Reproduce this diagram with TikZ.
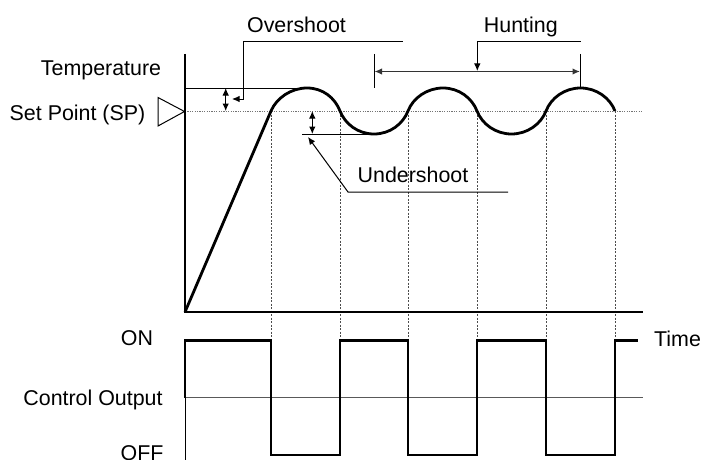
\documentclass[tikz,border=0pt]{standalone}
\usepackage{fontspec}
\setmainfont{Liberation Sans}
\usetikzlibrary{arrows.meta}
\begin{document}
\begin{tikzpicture}[x=1pt,y=-1pt,
  lbl/.style={inner sep=0pt,anchor=base,font=\fontsize{21.4}{25}\selectfont},
  axisline/.style={line width=1.6pt,black},
  thinline/.style={line width=1pt,black},
  graydot/.style={line width=0.9pt,black!55,dash pattern=on 1.2pt off 1.2pt},
  vdot/.style={line width=0.9pt,black!70,dash pattern=on 2pt off 1.5pt},
  curveline/.style={line width=2.8pt,black,line join=round},
  tip/.style={-{Latex[length=7.5pt,width=6.5pt]}},
  dtip/.style={{Latex[length=7.5pt,width=6.5pt]}-{Latex[length=7.5pt,width=6.5pt]}},
]
\useasboundingbox (0,0) rectangle (701,460);
% key points
\coordinate (O) at (185,312);
\coordinate (Atop) at (185,54);
\coordinate (Tend) at (643,312);
\coordinate (c1) at (271,111);
\coordinate (p1) at (307,88);
\coordinate (c2) at (340,111);
\coordinate (t1) at (374,134);
\coordinate (c3) at (408,111);
\coordinate (p2) at (443,88);
\coordinate (c4) at (477,111);
\coordinate (t2) at (511.5,134);
\coordinate (c5) at (546,111);
\coordinate (p3) at (580.5,88);
\coordinate (c6) at (615,111);
% set point dotted line
\coordinate (SPa) at (185,111);
\coordinate (SPb) at (643,111);
\draw[graydot] (SPa) -- (SPb);
% vertical dotted lines
\foreach \n/\x in {c1/271,c2/340,c3/408,c4/477,c5/546,c6/615}{
  \coordinate (d\n) at (\x,340);
  \draw[vdot] (\n) -- (d\n);
}
% axes
\draw[axisline] (Atop) -- (O) -- (Tend);
% overshoot level line
\coordinate (OSa) at (185,88);
\draw[thinline] (OSa) -- (p1);
% undershoot level line
\coordinate (USa) at (302,134);
\draw[thinline] (USa) -- (t1);
% temperature curve
\draw[curveline] (O) -- (c1)
  .. controls (276.5,98) and (291,88) .. (p1)
  .. controls (323,88) and (335,98) .. (c2)
  .. controls (345,124) and (358,134) .. (t1)
  .. controls (390,134) and (403,124) .. (c3)
  .. controls (413,98) and (427,88) .. (p2)
  .. controls (459,88) and (472,98) .. (c4)
  .. controls (482,124) and (495.5,134) .. (t2)
  .. controls (527.5,134) and (541,124) .. (c5)
  .. controls (551,98) and (564.5,88) .. (p3)
  .. controls (596.5,88) and (610,98) .. (c6);
% set point triangle
\coordinate (TRa) at (158,97.5);
\coordinate (TRb) at (158,126);
\coordinate (TRc) at (184.5,111.5);
\draw[line width=1pt] (TRa) -- (TRc) -- (TRb) -- cycle;
% overshoot double arrow
\coordinate (OA1) at (225.7,88);
\coordinate (OA2) at (225.7,111);
\draw[thinline,dtip] (OA1) -- (OA2);
% overshoot callout
\coordinate (OC1) at (402.5,42);
\coordinate (OC2) at (243,42);
\coordinate (OC3) at (243,99);
\coordinate (OC4) at (232,99);
\draw[thinline,tip] (OC1) -- (OC2) -- (OC3) -- (OC4);
% undershoot double arrow
\coordinate (UA1) at (312.3,111);
\coordinate (UA2) at (312.3,134);
\draw[thinline,dtip] (UA1) -- (UA2);
% undershoot callout
\coordinate (UC1) at (508,192);
\coordinate (UC2) at (348,192);
\coordinate (UC3) at (308,137);
\draw[thinline,tip] (UC1) -- (UC2) -- (UC3);
% hunting ticks and double arrow
\coordinate (HT1a) at (374,54);
\coordinate (HT1b) at (374,87.5);
\coordinate (HT2a) at (580.5,54);
\draw[thinline] (HT1a) -- (HT1b);
\draw[thinline] (HT2a) -- (p3);
\coordinate (HA1) at (374.5,71.5);
\coordinate (HA2) at (580,71.5);
\draw[line width=1.4pt,black!80,dtip] (HA1) -- (HA2);
% hunting callout
\coordinate (HC1) at (580.5,42);
\coordinate (HC2) at (477.3,42);
\coordinate (HC3) at (477.3,71);
\draw[thinline,tip] (HC1) -- (HC2) -- (HC3);
% control output
\coordinate (COa) at (185,397.5);
\coordinate (COb) at (643,397.5);
\draw[line width=1.1pt,black!65] (COa) -- (COb);
\coordinate (AXb1) at (185,340);
\coordinate (AXb2) at (185,462);
\draw[thinline] (AXb1) -- (AXb2);
\draw[curveline,line join=miter] (COa) -- (185,340.5) -- (271,340.5) -- (271,455) -- (340,455) -- (340,340.5)
  -- (408,340.5) -- (408,455) -- (477,455) -- (477,340.5) -- (546,340.5) -- (546,455)
  -- (615,455) -- (615,340.5) -- (637.5,340.5);
% labels
\node[lbl] (temp) at (101,75) {Temperature};
\node[lbl] (sp) at (77.5,120.5) {Set Point (SP)};
\node[lbl] (over) at (296.5,32.5) {Overshoot};
\node[lbl] (hunt) at (520.8,32.5) {Hunting};
\node[lbl] (under) at (413,182) {Undershoot};
\node[lbl] (on) at (137,345) {ON};
\node[lbl] (co) at (93,405) {Control Output};
\node[lbl] (off) at (142,460.5) {OFF};
\node[lbl,anchor=base west] (time) at (654,346) {Time};
\end{tikzpicture}
\end{document}
